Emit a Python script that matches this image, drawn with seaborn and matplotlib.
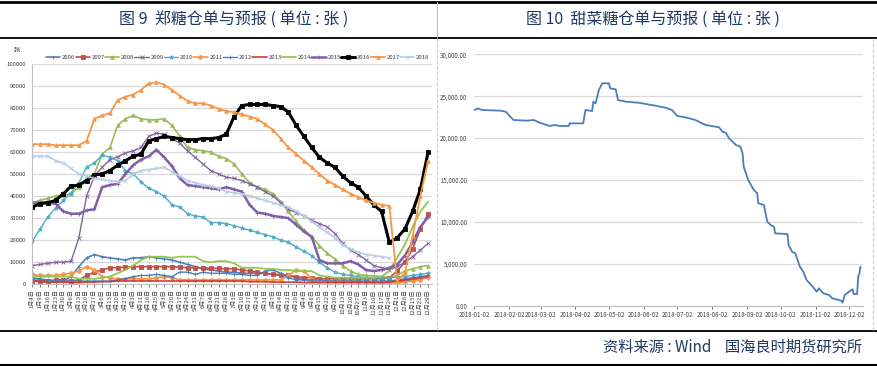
import numpy as np
import pandas as pd
import matplotlib
matplotlib.use("Agg")
import matplotlib.pyplot as plt
import matplotlib.dates as mdates
from matplotlib.lines import Line2D
from matplotlib.ticker import FuncFormatter
import seaborn as sns

# ----------------------------
# Data: Zhengzhou sugar warehouse receipts (weekly readings)
# ----------------------------
week_labels = [
    "1月4日", "1月9日", "1月16日", "1月23日", "1月30日", "2月6日", "2月13日", "2月20日",
    "2月27日", "3月6日", "3月13日", "3月20日", "3月27日", "4月3日", "4月11日", "4月18日",
    "4月25日", "5月3日", "5月10日", "5月17日", "5月24日", "5月31日", "6月7日", "6月14日",
    "6月21日", "6月28日", "7月3日", "7月10日", "7月17日", "7月24日", "7月31日", "8月7日",
    "8月14日", "8月21日", "8月28日", "9月4日", "9月8日", "9月15日", "9月22日", "9月29日",
    "10月13日", "10月20日", "10月27日", "11月3日", "11月10日", "11月17日", "11月24日", "12月1日",
    "12月8日", "12月15日", "12月22日", "12月29日",
]

y2006 = [2000, 1800, 1500, 1200, 1500, 3500, 8000, 12000, 13500, 12500, 12000, 11500, 11000,
         12000, 12000, 12500, 12000, 11500, 11000, 10000, 9000, 8000, 7000, 6500, 6000, 5500,
         5500, 5000, 5000, 5000, 5000, 4500, 4500, 4000, 3000, 2000, 1500, 1500, 1500, 1000,
         1000, 1000, 1000, 1000, 800, 800, 800, 1000, 1500, 2000, 2500, 3000]
y2007 = [1500, 1500, 1500, 2000, 2000, 1500, 2000, 4000, 5500, 6500, 7500, 7500, 7800, 8000,
         8000, 8000, 8000, 8000, 8000, 7800, 7500, 7500, 7500, 7200, 7200, 7000, 7000, 6500,
         6000, 5500, 5000, 4500, 4000, 4000, 3500, 3000, 3000, 2500, 2500, 2500, 2500, 2500,
         2500, 2500, 2500, 2500, 3000, 6000, 10000, 16000, 25000, 32000]
y2008 = [37000, 38000, 39000, 40000, 40500, 41000, 44000, 48000, 50000, 59000, 62000, 72000,
         75000, 76500, 75000, 74500, 74500, 75000, 72000, 67000, 62000, 61000, 60500, 60000,
         58000, 57000, 54500, 50000, 46000, 44000, 43000, 41000, 37500, 33000, 28500, 24500,
         21500, 17500, 14000, 11500, 8500, 6000, 4500, 4000, 3800, 3500, 3000, 4000, 6000,
         7000, 8000, 8500]
y2009 = [8500, 9000, 9500, 10000, 10000, 10500, 21000, 40000, 49000, 53000, 56500, 57800,
         59500, 60500, 62000, 67000, 68500, 68000, 66000, 64000, 60500, 57500, 54500, 51500,
         50000, 48500, 48000, 47000, 45500, 44000, 42000, 40000, 37000, 34000, 32500, 31000,
         29000, 27500, 26000, 23000, 18500, 15500, 13500, 11000, 8500, 7500, 6500, 8000,
         10000, 12500, 15500, 18500]
y2010 = [19500, 25000, 30500, 34500, 38000, 41500, 46000, 53000, 55000, 58500, 57500, 56000,
         51500, 50000, 46500, 43500, 42000, 40000, 36000, 35000, 32000, 31000, 30500, 28000,
         28000, 27500, 26500, 25500, 24500, 23500, 22500, 21500, 20000, 19000, 17000, 15000,
         13000, 10000, 7500, 5500, 4500, 4000, 3500, 3000, 3000, 3000, 3000, 3200, 3500, 4000,
         4500, 5000]
y2011 = [4500, 4000, 4000, 4000, 4500, 5000, 6000, 8000, 6500, 3500, 3000, 2500, 2500, 2500,
         2500, 2500, 3000, 3500, 3000, 2000, 2000, 2000, 2000, 2000, 2000, 2000, 2000, 2000,
         2000, 2000, 2000, 2000, 2000, 4000, 6500, 6000, 2500, 1500, 1500, 1500, 1500, 1500,
         1000, 1000, 1000, 1000, 1000, 500, 1000, 1500, 2000, 3500]
y2012 = [3000, 2500, 2000, 1500, 1500, 1500, 1500, 1500, 1500, 1500, 1500, 2000, 2500, 3500,
         4000, 4000, 4500, 4000, 3500, 5500, 5500, 4500, 5500, 5000, 5000, 5000, 4500, 4500,
         4000, 4000, 6000, 6500, 5000, 3000, 2000, 2000, 2000, 2000, 1500, 1500, 1500, 1500,
         1500, 1500, 1500, 1500, 1500, 2000, 2500, 3000, 3500, 4000]
y2013 = [1500, 1200, 1000, 1000, 1000, 800, 800, 1000, 1000, 1200, 1200, 1500, 1500, 1500,
         1500, 1500, 1500, 1500, 1500, 1500, 1500, 1500, 1500, 1500, 1500, 1500, 1500, 1500,
         1200, 1200, 1200, 1000, 1000, 1000, 1000, 800, 800, 800, 800, 800, 800, 800, 800,
         800, 800, 800, 1000, 1500, 2000, 2500, 3000, 3500]
y2014 = [4000, 3500, 3500, 3500, 3500, 3500, 2500, 2500, 2500, 3000, 3500, 5000, 6500, 8500,
         11000, 12500, 12500, 12500, 12000, 12500, 12500, 12500, 10500, 10000, 10500, 10500,
         9500, 7500, 7500, 7500, 7000, 7000, 6500, 6500, 6000, 6000, 6000, 4000, 3500, 3000,
         3000, 3000, 3000, 3000, 3000, 3500, 6000, 12000, 18000, 26000, 33000, 37500]
y2015 = [37000, 37000, 37000, 36500, 33000, 32000, 32000, 33500, 34000, 44000, 45000, 45500,
         50000, 54000, 56500, 58000, 61000, 57500, 53500, 48000, 45000, 44500, 44000, 43500,
         43000, 44000, 43000, 42000, 36000, 32500, 32000, 31000, 30500, 30000, 27000, 24000,
         21500, 11000, 9500, 9500, 9500, 10500, 9000, 6500, 6000, 6500, 7500, 9000, 13000,
         19000, 26000, 30500]
y2016 = [35000, 36500, 37000, 38000, 41000, 44500, 45000, 47000, 49500, 50000, 51500, 54000,
         56000, 58000, 59000, 65000, 66000, 67000, 66500, 66000, 65500, 65500, 66000, 66000,
         66500, 68000, 76000, 81000, 81500, 81500, 81500, 81000, 80500, 78000, 72000, 67000,
         62000, 57500, 55000, 53000, 49000, 46000, 44000, 40000, 36000, 33000, 19000, 21000,
         25000, 33000, 43000, 60000]
y2017 = [63500, 63500, 63500, 63000, 63000, 63000, 63000, 65000, 75000, 76500, 77500, 83500,
         85000, 86000, 88000, 91000, 91500, 90500, 88000, 85500, 83000, 82000, 82000, 81000,
         79500, 78500, 78000, 77000, 76000, 75000, 72500, 70000, 66000, 62000, 59000, 56000,
         53000, 50000, 47000, 45000, 43000, 41000, 39500, 38000, 37000, 36000, 35500, 1500,
         5000, 22000, 40000, 56000]
y2018 = [58000, 58000, 58000, 56000, 55000, 52500, 50000, 49000, 48000, 47500, 47000, 46500,
         47000, 50000, 51500, 52000, 52500, 53000, 51000, 49000, 47000, 46000, 45000, 44500,
         43500, 42000, 41500, 41000, 40000, 39000, 38000, 37000, 36000, 35000, 33000, 31000,
         28500, 26000, 23500, 21000, 18000, 16000, 14500, 13500, 13000, 12500, 12000]

# ----------------------------
# Data: beet sugar receipts 2018
# ----------------------------
beet_dates = [
    "2018-01-02", "2018-01-05", "2018-01-09", "2018-01-25", "2018-01-30", "2018-02-03",
    "2018-02-06", "2018-02-18", "2018-02-24", "2018-03-01", "2018-03-10", "2018-03-15",
    "2018-03-19", "2018-03-27", "2018-03-28", "2018-04-09", "2018-04-11", "2018-04-17",
    "2018-04-18", "2018-04-20", "2018-04-23", "2018-04-26", "2018-05-02", "2018-05-03",
    "2018-05-08", "2018-05-10", "2018-05-17", "2018-05-28", "2018-06-09", "2018-06-21",
    "2018-06-27", "2018-07-02", "2018-07-09", "2018-07-18", "2018-07-27", "2018-08-08",
    "2018-08-11", "2018-08-14", "2018-08-17", "2018-08-23", "2018-08-27", "2018-08-29",
    "2018-08-30", "2018-09-03", "2018-09-08", "2018-09-11", "2018-09-12", "2018-09-17",
    "2018-09-20", "2018-09-23", "2018-09-26", "2018-09-27", "2018-10-08", "2018-10-09",
    "2018-10-12", "2018-10-15", "2018-10-19", "2018-10-22", "2018-10-25", "2018-10-30",
    "2018-11-03", "2018-11-05", "2018-11-09", "2018-11-14", "2018-11-17", "2018-11-25",
    "2018-11-26", "2018-11-28", "2018-12-03", "2018-12-05", "2018-12-06", "2018-12-09",
    "2018-12-10", "2018-12-11", "2018-12-12",
]
beet_values = [
    23350, 23550, 23350, 23280, 23150, 22560, 22160, 22080, 22160, 21850, 21450, 21570,
    21450, 21450, 21760, 21760, 23350, 23240, 24350, 24150, 25740, 26540, 26540, 25940,
    25820, 24550, 24350, 24230, 23950, 23640, 23350, 22640, 22480, 22160, 21570, 21290,
    20770, 20650, 19970, 19180, 18980, 18180, 16590, 15000, 13810, 13410, 12220, 12020,
    10030, 9630, 9430, 8630, 8550, 7240, 6450, 6250, 4660, 4060, 3060, 2350,
    1670, 2070, 1470, 1270, 875, 600, 360, 1270, 1790, 1950, 1390, 1390,
    3460, 3780, 4660,
]

# ----------------------------
# Styles
# ----------------------------
series = [
    ("2006", y2006, "#4F81BD", "+", 1.2, 3.0),
    ("2007", y2007, "#C0504D", "s", 1.2, 2.6),
    ("2008", y2008, "#9BBB59", "^", 1.2, 2.6),
    ("2009", y2009, "#8064A2", "x", 1.0, 2.4),
    ("2010", y2010, "#4BACC6", "*", 1.0, 3.0),
    ("2011", y2011, "#F79646", "o", 1.2, 2.6),
    ("2012", y2012, "#4A7EBB", "+", 1.0, 2.6),
    ("2013", y2013, "#D43A32", None, 1.2, 0),
    ("2014", y2014, "#92C84E", None, 1.3, 0),
    ("2015", y2015, "#7F5FA8", "+", 1.8, 2.8),
    ("2016", y2016, "#000000", "s", 2.2, 3.4),
    ("2017", y2017, "#F79646", "^", 1.3, 2.6),
    ("2018", y2018, "#B9CDE5", "x", 1.2, 2.2),
]

navy = "#1F3864"
tick_color = "#404040"
grid_color = "#D9D9D9"

sns.set_theme(style="white")
plt.rcParams['font.family'] = ['Noto Sans CJK SC', 'DejaVu Sans']
plt.rcParams['axes.unicode_minus'] = False

fig = plt.figure(figsize=(8.77, 3.66), dpi=100)
fig.patch.set_facecolor("white")

# ----------------------------
# Left chart
# ----------------------------
ax1 = fig.add_axes([0.0361, 0.2232, 0.4565, 0.603])
for name, vals, color, marker, lw, ms in series:
    xs = np.arange(len(vals))
    kw = dict(marker=marker, markersize=ms, markeredgewidth=0.6,
              markerfacecolor=color, markeredgecolor=color) if marker else {}
    sns.lineplot(x=xs, y=vals, ax=ax1, color=color, linewidth=lw, label=name, **kw)

ax1.set_xlim(-0.08, 51.5)
ax1.set_ylim(0, 100000)
ax1.set_yticks(np.arange(0, 100001, 10000))
ax1.set_yticklabels([str(v) for v in range(0, 100001, 10000)])
ax1.set_xticks(np.arange(len(week_labels)))
ax1.set_xticklabels(week_labels, rotation=90, va="top")
ax1.tick_params(axis="y", labelsize=4.3, colors=tick_color, length=0, pad=4)
ax1.tick_params(axis="x", labelsize=4.3, colors=tick_color, length=2, width=0.5,
                direction="out", pad=1.5, bottom=True)
ax1.yaxis.grid(True, color=grid_color, linewidth=0.9)
ax1.set_axisbelow(True)
for side in ["top", "right"]:
    ax1.spines[side].set_visible(False)
for side in ["left", "bottom"]:
    ax1.spines[side].set_color("#BFBFBF")
    ax1.spines[side].set_linewidth(0.8)
ax1.set_xlabel("")
ax1.set_ylabel("")

leg = ax1.legend(loc="lower left", bbox_to_anchor=(0.03, 1.005, 0.97, 0.06), ncol=13,
                 mode="expand", frameon=False, fontsize=4.3, handlelength=2.4,
                 handletextpad=0.3, columnspacing=0.6, borderaxespad=0)
for t in leg.get_texts():
    t.set_color(tick_color)

fig.text(17 / 877, 1 - 50 / 366, "张", fontsize=4.5, color=tick_color, ha="center", va="center")

# ----------------------------
# Right chart
# ----------------------------
beet = pd.DataFrame({"date": pd.to_datetime(beet_dates), "value": beet_values})
ax2 = fig.add_axes([0.5408, 0.1648, 0.4429, 0.6868])
sns.lineplot(data=beet, x="date", y="value", ax=ax2, color="#4A7EBB", linewidth=1.3)
start = pd.Timestamp("2018-01-02")
ax2.set_xlim(start, start + pd.Timedelta(days=346))
ax2.set_ylim(0, 30000)
ax2.set_yticks(np.arange(0, 30001, 5000))
ax2.yaxis.set_major_formatter(FuncFormatter(lambda v, p: f"{v:,.2f}"))
month_ticks = pd.date_range("2018-01-01", periods=12, freq="MS") + pd.Timedelta(days=1)
ax2.set_xticks(month_ticks)
ax2.xaxis.set_major_formatter(mdates.DateFormatter("%Y-%m-%d"))
ax2.tick_params(axis="both", labelsize=4.4, colors=tick_color)
ax2.tick_params(axis="y", length=0, pad=5)
ax2.tick_params(axis="x", length=2, width=0.5, direction="out", bottom=True, pad=2)
ax2.yaxis.grid(True, color=grid_color, linewidth=0.9)
ax2.set_axisbelow(True)
for side in ["top", "right", "left"]:
    ax2.spines[side].set_visible(False)
ax2.spines["bottom"].set_color("#BFBFBF")
ax2.spines["bottom"].set_linewidth(0.8)
ax2.set_xlabel("")
ax2.set_ylabel("")

# ----------------------------
# Frame, titles and source
# ----------------------------
def hline(y_px, lw, color="black"):
    fig.add_artist(Line2D([0, 1], [1 - y_px / 366] * 2, color=color, linewidth=lw))

def vline(x_px, y0_px, y1_px, lw, color, ls="-"):
    fig.add_artist(Line2D([x_px / 877] * 2, [1 - y0_px / 366, 1 - y1_px / 366],
                          color=color, linewidth=lw, linestyle=ls))

hline(1.5, 2.0)
hline(37.5, 1.3)
hline(331, 1.3)
hline(364.5, 1.5)
vline(437, 2, 37, 0.8, "#BFBFBF")
vline(437, 38, 330, 0.8, "#C8C8C8", (0, (3, 2)))
vline(873, 38, 330, 0.8, "#C8C8C8", (0, (3, 2)))

fig.text(234 / 877, 1 - 19 / 366, "图 9  郑糖仓单与预报 ( 单位 : 张 )", fontsize=11.5,
         color=navy, ha="center", va="center")
fig.text(653 / 877, 1 - 19 / 366, "图 10  甜菜糖仓单与预报 ( 单位 : 张 )", fontsize=11.5,
         color=navy, ha="center", va="center")
fig.text(862 / 877, 1 - 347 / 366, "资料来源 : Wind    国海良时期货研究所", fontsize=11,
         color=navy, ha="right", va="center")

fig.savefig("out.png", dpi=100, facecolor="white")
